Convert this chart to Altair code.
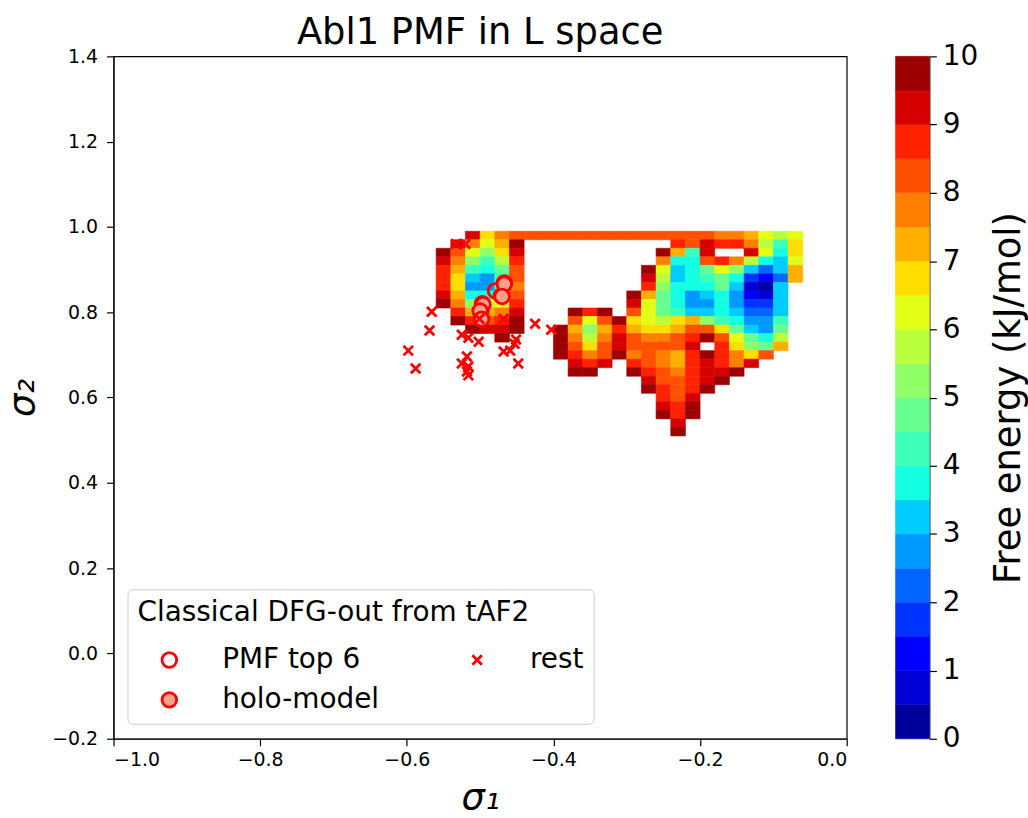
import altair as alt
import pandas as pd
import numpy as np

_ = None

# ---------------- data ----------------
sigma1_centers = [-0.55, -0.53, -0.51, -0.49, -0.47, -0.45, -0.43, -0.41, -0.39, -0.37,
                  -0.35, -0.33, -0.31, -0.29, -0.27, -0.25, -0.23, -0.21, -0.19, -0.17,
                  -0.15, -0.13, -0.11, -0.09, -0.07, -0.05]
sigma2_centers = [0.98, 0.96, 0.94, 0.92, 0.90, 0.88, 0.86, 0.84, 0.82, 0.80, 0.78, 0.76,
                  0.74, 0.72, 0.70, 0.68, 0.66, 0.64, 0.62, 0.60, 0.58, 0.56, 0.54, 0.52]

# free energy (kJ/mol) per grid cell, one list per sigma2 row (top to bottom)
pmf_rows = [
    [_, _, 9, 6.5, 7.5, 8, 8, 8, 8, 8, 8, 8, 8, 8, 8, 8, 8, 8, 8, 7.5, 7.5, 7, 6, 5.5, 6, _],
    [_, 9, 7.5, 6, 7, 9.5, _, _, _, _, _, _, _, _, _, _, 8.5, 8, 9, 8.5, 8.5, 7.5, 5.5, 4, 6.5, _],
    [9.5, 8, 6, 5, 6.5, 9, _, _, _, _, _, _, _, _, _, 9.5, 7, 4, 9, _, _, 9, 6, 3.5, 6.5, _],
    [9, 7.5, 5, 4, 5.5, 8.5, _, _, _, _, _, _, _, _, _, 7.5, 3.5, 3.5, 8, 8.5, 7.5, 5.5, 3.5, 3, 6, _],
    [8.5, 7, 4, 3.5, 4.5, 8, _, _, _, _, _, _, _, _, 9.5, 6, 3, 3.5, 4.5, 6, 5, 3, 2, 3, 7, _],
    [8.5, 6.5, 3, 2.5, 4, 8, _, _, _, _, _, _, _, _, 9, 5.5, 3, 3.5, 4, 4.5, 3.5, 1.5, 1, 2, 7, _],
    [8.5, 6.5, 2.5, 2.5, 4, 7.5, _, _, _, _, _, _, _, _, 8.5, 5, 3.5, 3.5, 3.5, 4.5, 3, 0.75, 0.25, 3, _, _],
    [9, 7, 3.5, 3.5, 5, 8, _, _, _, _, _, _, _, 9.5, 7, 4.5, 3.5, 2.5, 3, 3.5, 2.5, 1, 0.75, 3, _, _],
    [9.5, 7.5, 5, 5.5, 6, 8.5, _, _, _, _, _, _, _, 9, 6, 4.5, 3.5, 2.5, 2.5, 3.5, 2.5, 1.5, 1.5, 3, _, _],
    [_, 8.5, 7, 7, 7.5, 9, _, _, _, 9.5, 8.5, 9.5, _, 8, 6, 4.5, 4, 3, 3, 3.5, 3, 2, 2, 3, _, _],
    [_, 9.5, 8.5, 8, 8.5, 9.5, _, _, _, 8, 6, 8, 9.5, 6.5, 6, 5.5, 6.5, 7, 5, 4, 3.5, 2.5, 2.5, 4, _, _],
    [_, _, 9.5, 9, 9, 9.5, _, _, 9.5, 7, 5, 7, 8.5, 7, 6.5, 6.5, 7, 8, 8, 6.5, 4.5, 3, 2.5, 4.5, _, _],
    [_, _, _, _, 9.5, _, _, _, 9.5, 7.5, 5.5, 7.5, 9, 8, 7.5, 7.5, 8, 8.5, 9.5, 8, 6, 4.5, 3.5, 5.5, _, _],
    [_, _, _, _, _, _, _, _, 9.5, 8, 6.5, 8, 9, 8, 8, 8, 8, 9, _, 8.5, 6.5, 5, 4.5, 7, _, _],
    [_, _, _, _, _, _, _, _, 9.5, 8.5, 7.5, 8, 9.5, 7.5, 8, 7.5, 7, 8.5, 9.5, 8.5, 7.5, 6.5, 8, _, _, _],
    [_, _, _, _, _, _, _, _, _, 9, 8.5, 9, _, 8.5, 8, 7.5, 7, 8.5, 9, 8.5, 7.5, 9, _, _, _, _],
    [_, _, _, _, _, _, _, _, _, 9.5, 9.5, _, _, 9.5, 8.5, 8, 7.5, 8.5, 9, 9, 9.5, _, _, _, _, _],
    [_, _, _, _, _, _, _, _, _, _, _, _, _, _, 9, 8, 8, 8.5, 9, 9.5, _, _, _, _, _, _],
    [_, _, _, _, _, _, _, _, _, _, _, _, _, _, 9.5, 8.5, 8, 8.5, 9.5, _, _, _, _, _, _, _],
    [_, _, _, _, _, _, _, _, _, _, _, _, _, _, _, 8.5, 8, 9, _, _, _, _, _, _, _, _],
    [_, _, _, _, _, _, _, _, _, _, _, _, _, _, _, 9, 8.5, 9.5, _, _, _, _, _, _, _, _],
    [_, _, _, _, _, _, _, _, _, _, _, _, _, _, _, 9.5, 8.5, 9.5, _, _, _, _, _, _, _, _],
    [_, _, _, _, _, _, _, _, _, _, _, _, _, _, _, _, 9, _, _, _, _, _, _, _, _, _],
    [_, _, _, _, _, _, _, _, _, _, _, _, _, _, _, _, 9.5, _, _, _, _, _, _, _, _, _],
]

pmf_top_s1 = [-0.467, -0.471, -0.479, -0.497, -0.499, -0.498]
pmf_top_s2 = [0.869, 0.839, 0.850, 0.820, 0.801, 0.785]
holo_s1 = [-0.467, -0.470, -0.496, -0.500, -0.498]
holo_s2 = [0.866, 0.837, 0.818, 0.803, 0.784]
rest_s1 = [-0.533, -0.520, -0.566, -0.569, -0.598, -0.588, -0.525, -0.516, -0.502, -0.518,
           -0.525, -0.516, -0.518, -0.516, -0.468, -0.501, -0.468, -0.459, -0.451, -0.453,
           -0.448, -0.425, -0.403]
rest_s2 = [0.960, 0.960, 0.801, 0.757, 0.710, 0.668, 0.747, 0.740, 0.731, 0.696,
           0.680, 0.673, 0.661, 0.652, 0.785, 0.785, 0.708, 0.710, 0.736, 0.726,
           0.680, 0.773, 0.759]

levels = [i * 0.5 for i in range(21)]
cbar_ticks = list(range(11))
x_ticks = [-1.0, -0.8, -0.6, -0.4, -0.2, 0.0]
y_ticks = [-0.2, 0.0, 0.2, 0.4, 0.6, 0.8, 1.0, 1.2, 1.4]
legend_kinds = ["PMF top 6", "holo-model", "rest"]

# ---------------- colour map (matplotlib jet) ----------------
def jet(v):
    r = np.interp(v, [0, 0.35, 0.66, 0.89, 1], [0, 0, 1, 1, 0.5])
    g = np.interp(v, [0, 0.125, 0.375, 0.64, 0.91, 1], [0, 0, 1, 1, 0, 0])
    b = np.interp(v, [0, 0.11, 0.34, 0.65, 1], [0.5, 1, 1, 0, 0])
    return "#%02x%02x%02x" % (int(round(r * 255)), int(round(g * 255)), int(round(b * 255)))

mids = [(levels[i] + levels[i + 1]) / 2 for i in range(len(levels) - 1)]
jet_colors = [jet(m / 10.0) for m in mids]
thresholds = levels[1:-1]

def cscale():
    return alt.Scale(type="threshold", domain=thresholds, range=jet_colors)

# ---------------- tables ----------------
half = 0.01
cells = []
for r, row in enumerate(pmf_rows):
    assert len(row) == len(sigma1_centers)
    for c, v in enumerate(row):
        if v is None:
            continue
        cells.append(dict(x0=sigma1_centers[c] - half, x1=sigma1_centers[c] + half,
                          y0=sigma2_centers[r] - half, y1=sigma2_centers[r] + half, F=v))
cells = pd.DataFrame(cells)

pts = []
for x, y in zip(pmf_top_s1, pmf_top_s2):
    pts.append(dict(s1=x, s2=y, kind="PMF top 6"))
for x, y in zip(holo_s1, holo_s2):
    pts.append(dict(s1=x, s2=y, kind="holo-model"))
for x, y in zip(rest_s1, rest_s2):
    pts.append(dict(s1=x, s2=y, kind="rest"))
pts = pd.DataFrame(pts)

cbar = pd.DataFrame(dict(lo=levels[:-1], hi=levels[1:], F=mids, a=[0] * 20, b=[1] * 20))

FONT = "DejaVu Sans"
SALMON = "#f7a08c"
X_PATH = "M-0.65,-0.65L0.65,0.65M-0.65,0.65L0.65,-0.65"
SYM = 215
x_scale = alt.Scale(domain=[-1.0, 0.0], nice=False, zero=False)
y_scale = alt.Scale(domain=[-0.2, 1.4], nice=False, zero=False)

axis_common = dict(labelFontSize=19, labelFont=FONT, labelColor="black", tickColor="black",
                   domainColor="black", tickSize=7, tickWidth=1.2, grid=False, format=".1f",
                   titleFont=FONT, titleFontSize=37, titleFontStyle="italic",
                   titleFontWeight="normal", titleColor="black")

heat = alt.Chart(cells).mark_rect(strokeWidth=0.6).encode(
    x=alt.X("x0:Q", scale=x_scale,
            axis=alt.Axis(title="σ₁", values=x_ticks, titlePadding=10, labelPadding=5,
                          **axis_common)),
    x2="x1:Q",
    y=alt.Y("y0:Q", scale=y_scale,
            axis=alt.Axis(title="σ₂", values=y_ticks, titlePadding=10, labelPadding=9,
                          **axis_common)),
    y2="y1:Q",
    color=alt.Color("F:Q", scale=cscale(), legend=None),
    stroke=alt.Stroke("F:Q", scale=cscale(), legend=None),
)

legend_layout = dict(
    title="Classical DFG-out from tAF2", orient="none", legendX=14, legendY=535,
    columns=2, values=legend_kinds, titleFontSize=28, labelFontSize=28, titleFont=FONT,
    labelFont=FONT, titleFontWeight="normal", titleLimit=600, labelLimit=400, padding=10,
    labelOffset=39, columnPadding=66, rowPadding=12, titlePadding=19, symbolOffset=18,
    symbolSize=SYM, symbolStrokeWidth=2.8, symbolOpacity=1,
)
# outline legend (open circle / cross, with texts), drawn on top
leg_outline = alt.Legend(titleColor="black", labelColor="black", symbolFillColor="transparent",
                         symbolStrokeColor="red", zindex=2, **legend_layout)
# fill legend (salmon face of holo-model), with the frame, drawn below
leg_fill = alt.Legend(titleColor="transparent", labelColor="transparent",
                      symbolStrokeColor="transparent", fillColor="white",
                      strokeColor="#cccccc", cornerRadius=5, zindex=1, **legend_layout)

points = alt.Chart(pts).mark_point(filled=True, strokeWidth=2.8, opacity=1, size=SYM).encode(
    x=alt.X("s1:Q", scale=x_scale),
    y=alt.Y("s2:Q", scale=y_scale),
    shape=alt.Shape("kind:N", scale=alt.Scale(domain=legend_kinds,
                    range=["circle", "circle", X_PATH]), legend=leg_outline),
    fill=alt.Fill("kind:N", scale=alt.Scale(domain=legend_kinds + ["-"],
                  range=["transparent", SALMON, "transparent", "transparent"]), legend=leg_fill),
    stroke=alt.Stroke("kind:N", scale=alt.Scale(domain=legend_kinds,
                      range=["red", "red", "red"]), legend=None),
)

main = alt.layer(heat, points).resolve_scale(stroke="independent").properties(
    width=736, height=685,
    view=alt.ViewBackground(stroke="black", strokeWidth=1.2),
    title=alt.Title("Abl1 PMF in L space", fontSize=37, font=FONT, fontWeight="normal",
                    color="black", offset=-5, anchor="middle"),
)

colorbar = alt.Chart(cbar).mark_rect(strokeWidth=0.5).encode(
    x=alt.X("a:Q", scale=alt.Scale(domain=[0, 1]), axis=None),
    x2="b:Q",
    y=alt.Y("lo:Q", scale=alt.Scale(domain=[0, 10], nice=False, zero=False),
            axis=alt.Axis(orient="right", values=cbar_ticks, format="d", title="Free energy (kJ/mol)",
                          titleAngle=270, titleFontSize=37, titleFont=FONT, titleFontWeight="normal",
                          titleColor="black", labelFontSize=28, labelFont=FONT, labelColor="black",
                          tickColor="black", domainColor="black", tickSize=7, tickWidth=1.2,
                          grid=False, labelPadding=6, titlePadding=50)),
    y2="hi:Q",
    color=alt.Color("F:Q", scale=cscale(), legend=None),
    stroke=alt.Stroke("F:Q", scale=cscale(), legend=None),
).properties(width=34, height=685)

chart = alt.hconcat(main, colorbar, spacing=46).resolve_scale(
    color="independent", stroke="independent"
).configure_view(stroke="black", strokeWidth=1.2).configure(
    font=FONT, padding={"left": 3, "top": 12, "right": 0, "bottom": 0}, background="white"
)

chart.save("out.html", embed_options={"renderer": "svg", "actions": False})
